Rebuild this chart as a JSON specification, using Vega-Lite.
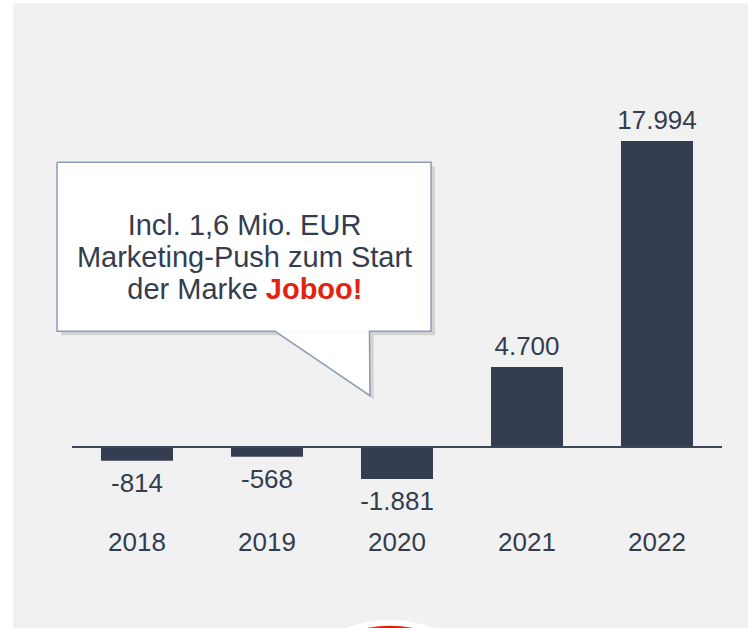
{
  "$schema": "https://vega.github.io/schema/vega-lite/v6.json",
  "width": 650,
  "height": 391,
  "autosize": {"type": "none"},
  "padding": {"left": 72, "top": 107, "right": 26, "bottom": 130},
  "background": "#ffffff",
  "config": {
    "view": {"stroke": null},
    "font": "Liberation Sans",
    "locale": {"number": {"decimal": ",", "thousands": ".", "grouping": [3], "currency": ["", " €"], "minus": "-"}}
  },
  "datasets": {
    "bars": [
      {"year": "2018", "value": -814},
      {"year": "2019", "value": -568},
      {"year": "2020", "value": -1881},
      {"year": "2021", "value": 4700},
      {"year": "2022", "value": 17994}
    ],
    "panel": [{"u1": 0.046, "u2": 5.8, "v1": 26100, "v2": -11500}],
    "zeroline": [{"u1": 0.5, "u2": 5.5, "v": 0}],
    "box": [{"u1": 0.385, "u2": 3.262, "v1": 16745, "v2": 6816}],
    "tail": [
      {"u": 2.062, "v": 6816, "v2": 6816},
      {"u": 2.79, "v": 3026, "v2": 6816}
    ],
    "outline": [
      {"i": 0, "u": 0.385, "v": 16745},
      {"i": 1, "u": 3.262, "v": 16745},
      {"i": 2, "u": 3.262, "v": 6816},
      {"i": 3, "u": 2.788, "v": 6816},
      {"i": 4, "u": 2.792, "v": 3026},
      {"i": 5, "u": 2.062, "v": 6816},
      {"i": 6, "u": 0.385, "v": 6816},
      {"i": 7, "u": 0.385, "v": 16745}
    ],
    "note": [
      {"t": "Incl. 1,6 Mio. EUR", "u": 1.827, "v": 12474},
      {"t": "Marketing-Push zum Start", "u": 1.827, "v": 10593}
    ],
    "note3a": [{"t": "der Marke", "u": 1.96, "v": 8678}],
    "note3b": [{"t": "Joboo!", "u": 1.96, "v": 8678}],
    "logo": [{"u": 2.946, "v": -17039}]
  },
  "layer": [
    {
      "data": {"name": "panel"},
      "mark": {"type": "rect", "fill": "#f1f1f1", "clip": false},
      "encoding": {
        "x": {"field": "u1", "type": "quantitative", "scale": {"domain": [0.5, 5.5], "nice": false, "zero": false}, "axis": null},
        "x2": {"field": "u2"},
        "y": {"field": "v1", "type": "quantitative", "scale": {"domain": [-3000, 20000], "nice": false, "zero": false}, "axis": null},
        "y2": {"field": "v2"}
      }
    },
    {
      "data": {"name": "bars"},
      "encoding": {
        "x": {
          "field": "year", "type": "nominal", "sort": null,
          "scale": {"paddingInner": 0.446, "paddingOuter": 0.223},
          "axis": {"orient": "bottom", "zindex": 1, "title": null, "domain": false, "ticks": false, "labelAngle": 0, "labelFontSize": 26, "labelColor": "#333d4f", "labelPadding": 31, "labelFont": "Liberation Sans"}
        },
        "y": {"field": "value", "type": "quantitative", "scale": {"domain": [-3000, 20000], "nice": false, "zero": false}, "axis": null}
      },
      "layer": [
        {"mark": {"type": "bar", "color": "#343e50"}},
        {
          "transform": [{"filter": "datum.value > 0"}],
          "mark": {"type": "text", "baseline": "alphabetic", "dy": -12, "fontSize": 26, "color": "#333d4f", "font": "Liberation Sans"},
          "encoding": {"text": {"field": "value", "type": "quantitative", "format": ",d"}}
        },
        {
          "transform": [{"filter": "datum.value < 0"}],
          "mark": {"type": "text", "baseline": "top", "dy": 10, "fontSize": 26, "color": "#333d4f", "font": "Liberation Sans"},
          "encoding": {"text": {"field": "value", "type": "quantitative", "format": ",d"}}
        }
      ]
    },
    {
      "layer": [
        {
          "data": {"name": "zeroline"},
          "mark": {"type": "rule", "color": "#3c4658", "strokeWidth": 2},
          "encoding": {
            "x": {"field": "u1", "type": "quantitative", "scale": {"domain": [0.5, 5.5], "nice": false, "zero": false}, "axis": null},
            "x2": {"field": "u2"},
            "y": {"field": "v", "type": "quantitative", "scale": {"domain": [-3000, 20000], "nice": false, "zero": false}, "axis": null}
          }
        },
        {
          "data": {"name": "box"},
          "mark": {"type": "rect", "fill": "#000000", "opacity": 0.12, "xOffset": 4, "yOffset": 4, "x2Offset": 4, "y2Offset": 4},
          "encoding": {
            "x": {"field": "u1", "type": "quantitative", "scale": {"domain": [0.5, 5.5], "nice": false, "zero": false}, "axis": null},
            "x2": {"field": "u2"},
            "y": {"field": "v1", "type": "quantitative", "scale": {"domain": [-3000, 20000], "nice": false, "zero": false}, "axis": null},
            "y2": {"field": "v2"}
          }
        },
        {
          "data": {"name": "tail"},
          "mark": {"type": "area", "fill": "#000000", "opacity": 0.12, "xOffset": 4, "yOffset": 4, "y2Offset": 4},
          "encoding": {
            "x": {"field": "u", "type": "quantitative", "scale": {"domain": [0.5, 5.5], "nice": false, "zero": false}, "axis": null},
            "y": {"field": "v", "type": "quantitative", "scale": {"domain": [-3000, 20000], "nice": false, "zero": false}, "axis": null},
            "y2": {"field": "v2"}
          }
        },
        {
          "data": {"name": "box"},
          "mark": {"type": "rect", "fill": "#ffffff"},
          "encoding": {
            "x": {"field": "u1", "type": "quantitative", "scale": {"domain": [0.5, 5.5], "nice": false, "zero": false}, "axis": null},
            "x2": {"field": "u2"},
            "y": {"field": "v1", "type": "quantitative", "scale": {"domain": [-3000, 20000], "nice": false, "zero": false}, "axis": null},
            "y2": {"field": "v2"}
          }
        },
        {
          "data": {"name": "tail"},
          "mark": {"type": "area", "fill": "#ffffff"},
          "encoding": {
            "x": {"field": "u", "type": "quantitative", "scale": {"domain": [0.5, 5.5], "nice": false, "zero": false}, "axis": null},
            "y": {"field": "v", "type": "quantitative", "scale": {"domain": [-3000, 20000], "nice": false, "zero": false}, "axis": null},
            "y2": {"field": "v2"}
          }
        },
        {
          "data": {"name": "outline"},
          "mark": {"type": "line", "color": "#8d9cb6", "strokeWidth": 1.5},
          "encoding": {
            "x": {"field": "u", "type": "quantitative", "scale": {"domain": [0.5, 5.5], "nice": false, "zero": false}, "axis": null},
            "y": {"field": "v", "type": "quantitative", "scale": {"domain": [-3000, 20000], "nice": false, "zero": false}, "axis": null},
            "order": {"field": "i", "type": "quantitative"}
          }
        },
        {
          "data": {"name": "note"},
          "mark": {"type": "text", "align": "center", "baseline": "alphabetic", "fontSize": 29, "color": "#333d4f", "font": "Liberation Sans"},
          "encoding": {
            "x": {"field": "u", "type": "quantitative", "scale": {"domain": [0.5, 5.5], "nice": false, "zero": false}, "axis": null},
            "y": {"field": "v", "type": "quantitative", "scale": {"domain": [-3000, 20000], "nice": false, "zero": false}, "axis": null},
            "text": {"field": "t"}
          }
        },
        {
          "data": {"name": "note3a"},
          "mark": {"type": "text", "align": "right", "baseline": "alphabetic", "dx": -4, "fontSize": 29, "color": "#333d4f", "font": "Liberation Sans"},
          "encoding": {
            "x": {"field": "u", "type": "quantitative", "scale": {"domain": [0.5, 5.5], "nice": false, "zero": false}, "axis": null},
            "y": {"field": "v", "type": "quantitative", "scale": {"domain": [-3000, 20000], "nice": false, "zero": false}, "axis": null},
            "text": {"field": "t"}
          }
        },
        {
          "data": {"name": "note3b"},
          "mark": {"type": "text", "align": "left", "baseline": "alphabetic", "dx": 4, "fontSize": 29, "fontWeight": "bold", "color": "#e1230f", "font": "Liberation Sans"},
          "encoding": {
            "x": {"field": "u", "type": "quantitative", "scale": {"domain": [0.5, 5.5], "nice": false, "zero": false}, "axis": null},
            "y": {"field": "v", "type": "quantitative", "scale": {"domain": [-3000, 20000], "nice": false, "zero": false}, "axis": null},
            "text": {"field": "t"}
          }
        },
        {
          "data": {"name": "logo"},
          "mark": {"type": "circle", "color": "#ffffff", "opacity": 1, "size": 54756, "clip": false},
          "encoding": {
            "x": {"field": "u", "type": "quantitative", "scale": {"domain": [0.5, 5.5], "nice": false, "zero": false}, "axis": null},
            "y": {"field": "v", "type": "quantitative", "scale": {"domain": [-3000, 20000], "nice": false, "zero": false}, "axis": null}
          }
        },
        {
          "data": {"name": "logo"},
          "mark": {"type": "circle", "color": "#e3200b", "opacity": 1, "size": 49284, "clip": false},
          "encoding": {
            "x": {"field": "u", "type": "quantitative", "scale": {"domain": [0.5, 5.5], "nice": false, "zero": false}, "axis": null},
            "y": {"field": "v", "type": "quantitative", "scale": {"domain": [-3000, 20000], "nice": false, "zero": false}, "axis": null}
          }
        }
      ]
    }
  ],
  "resolve": {"scale": {"x": "independent"}}
}
